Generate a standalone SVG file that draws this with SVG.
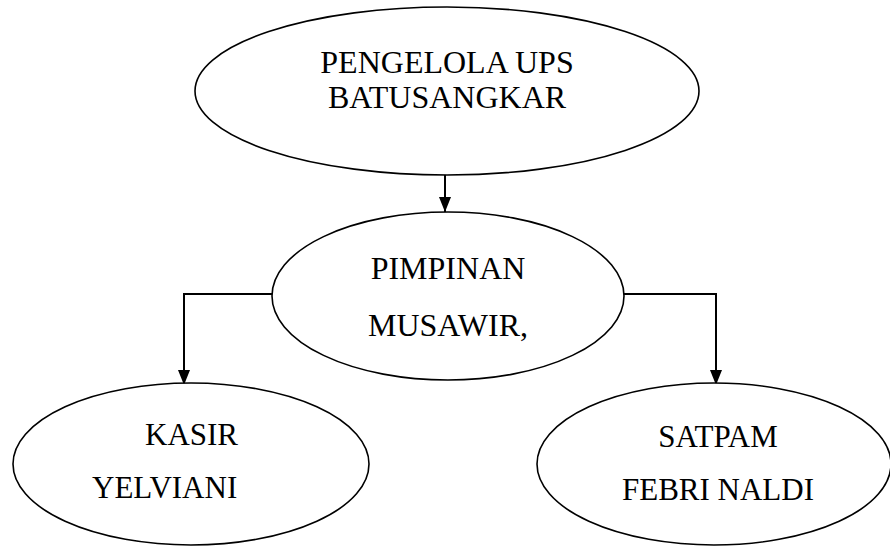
<svg xmlns="http://www.w3.org/2000/svg" width="890" height="546" viewBox="0 0 890 546">
<style>
.node ellipse{fill:#fff;stroke:#000;stroke-width:1.6}
.node text{font-family:"Liberation Serif","Times New Roman","DejaVu Serif",serif;font-size:31px;fill:#000}
.node text.big{font-size:32px}
.conn path{fill:none;stroke:#000;stroke-width:2}
</style>
<defs>
<marker id="ah" viewBox="0 0 15 12" refX="15" refY="6" markerWidth="15" markerHeight="12" markerUnits="userSpaceOnUse" orient="auto">
<path d="M0,0 L15,6 L0,12 Z" fill="#000"/>
</marker>
</defs>
<g id="connectors" class="conn">
<path d="M445,162 V212" marker-end="url(#ah)"/>
<path d="M272,294 H184 V385" marker-end="url(#ah)"/>
<path d="M624,294 H716 V385" marker-end="url(#ah)"/>
</g>
<g id="node-pengelola" class="node">
<ellipse cx="447" cy="91" rx="252" ry="84"/>
<text class="big" x="447" y="73" text-anchor="middle">PENGELOLA UPS</text>
<text class="big" x="447" y="108" text-anchor="middle">BATUSANGKAR</text>
</g>
<g id="node-pimpinan" class="node">
<ellipse cx="448" cy="296" rx="176" ry="84"/>
<text class="big" x="448" y="279" text-anchor="middle">PIMPINAN</text>
<text class="big" x="448" y="336" text-anchor="middle">MUSAWIR,</text>
</g>
<g id="node-kasir" class="node">
<ellipse cx="191" cy="464" rx="178" ry="81"/>
<text x="145" y="445">KASIR</text>
<text x="92" y="498">YELVIANI</text>
</g>
<g id="node-satpam" class="node">
<ellipse cx="714" cy="464" rx="177" ry="81"/>
<text x="718" y="447" text-anchor="middle">SATPAM</text>
<text x="718" y="500" text-anchor="middle">FEBRI NALDI</text>
</g>
</svg>
